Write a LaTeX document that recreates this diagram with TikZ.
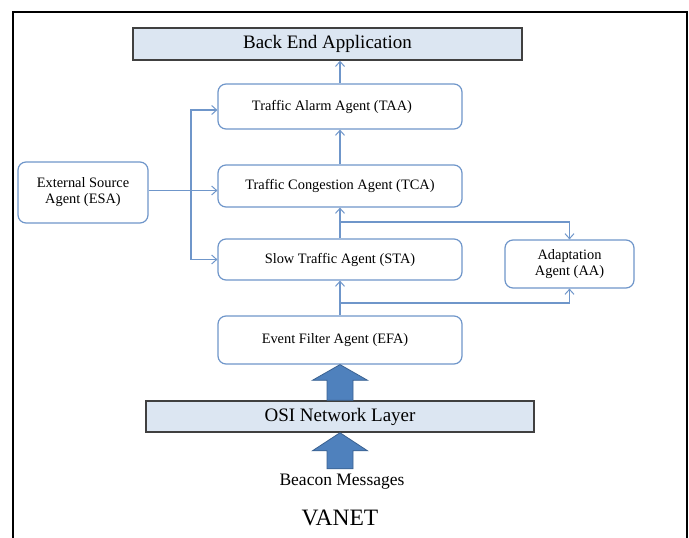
\documentclass[tikz,border=0pt]{standalone}
\usepackage{fontspec}
\setmainfont{Liberation Serif}
\usetikzlibrary{arrows.meta,calc}
\definecolor{lineblue}{HTML}{6F96CA}
\definecolor{fillblue}{HTML}{4F81BD}
\definecolor{edgeblue}{HTML}{3A6190}
\definecolor{layerfill}{HTML}{DCE6F2}
\definecolor{layeredge}{HTML}{404040}
\tikzset{
  agent/.style={draw=lineblue, line width=1.2pt, rounded corners=8pt, fill=white,
    inner sep=0pt, align=center, font=\fontsize{14.4}{16}\selectfont},
  layer/.style={draw=layeredge, line width=1.5pt, fill=layerfill, inner sep=0pt,
    font=\fontsize{19}{22}\selectfont},
  conn/.style={draw=lineblue, line width=1.1pt, -{Straight Barb[length=5pt,width=9pt,line width=1pt]}},
  blockarrow/.style={fill=fillblue, draw=edgeblue, line width=0.8pt, line join=miter},
}
\begin{document}
\begin{tikzpicture}[x=1pt,y=-1pt]
\useasboundingbox (0,0) rectangle (689,538);
% frame
\draw[line width=2.5pt, black] (13,540) -- (13,12) -- (687,12) -- (687,540);

% nodes
\node[layer, minimum width=389pt, minimum height=32pt] (bea) at (327.5,44) {Back End Application};
\node[agent, minimum width=244pt, minimum height=45pt] (taa) at (340,106.5) {Traffic Alarm Agent (TAA)\hspace*{16pt}};
\node[agent, minimum width=244pt, minimum height=42pt] (tca) at (340,186) {Traffic Congestion Agent (TCA)};
\node[agent, minimum width=130pt, minimum height=61pt] (esa) at (83,192.5) {External Source\\Agent (ESA)};
\node[agent, minimum width=244pt, minimum height=41pt] (sta) at (340,259.5) {Slow Traffic Agent (STA)};
\node[agent, minimum width=129pt, minimum height=48pt] (aa) at (569.5,264) {Adaptation\\Agent (AA)};
\node[agent, minimum width=244pt, minimum height=48pt] (efa) at (340,340) {Event Filter Agent (EFA)\hspace*{10pt}};
\node[layer, minimum width=388pt, minimum height=31pt] (osi) at (340,416.5) {OSI Network Layer};
\node[font=\fontsize{17.5}{20}\selectfont, inner sep=0pt] (beacon) at (342,482) {Beacon Messages};
\node[font=\fontsize{23.5}{26}\selectfont, inner sep=0pt] (vanet) at (340,518) {VANET};

% connectors
\draw[conn] (taa.north) -- (taa.north |- bea.south);
\draw[conn] (tca.north) -- (taa.south);
\draw[conn] (sta.north) -- (tca.south);
\draw[conn] (efa.north) -- (sta.south);
\draw[conn] ([yshift=2pt]esa.east) -- ([yshift=2pt]esa.east -| tca.west);
\coordinate (jx) at (191,190.5);
\draw[conn] (jx) |- ([yshift=-3.5pt]taa.west);
\draw[conn] (jx) |- (sta.west);
\coordinate (b1) at (340,222);
\draw[conn] (b1) -| (aa.north);
\coordinate (b2) at (340,303);
\draw[conn] (b2) -| (aa.south);

% block arrows
\draw[blockarrow] ($(osi.north)+(-13,0)$) -- ++(0,-20) -- ++(-14.5,0) -- (efa.south)
  -- ($(osi.north)+(27.5,-20)$) -- ++(-14.5,0) -- ($(osi.north)+(13,0)$) -- cycle;
\draw[blockarrow] ($(osi.south)+(-13,36)$) -- ++(0,-18) -- ++(-14.5,0) -- (osi.south)
  -- ($(osi.south)+(27.5,18)$) -- ++(-14.5,0) -- ($(osi.south)+(13,36)$) -- cycle;
\end{tikzpicture}
\end{document}
